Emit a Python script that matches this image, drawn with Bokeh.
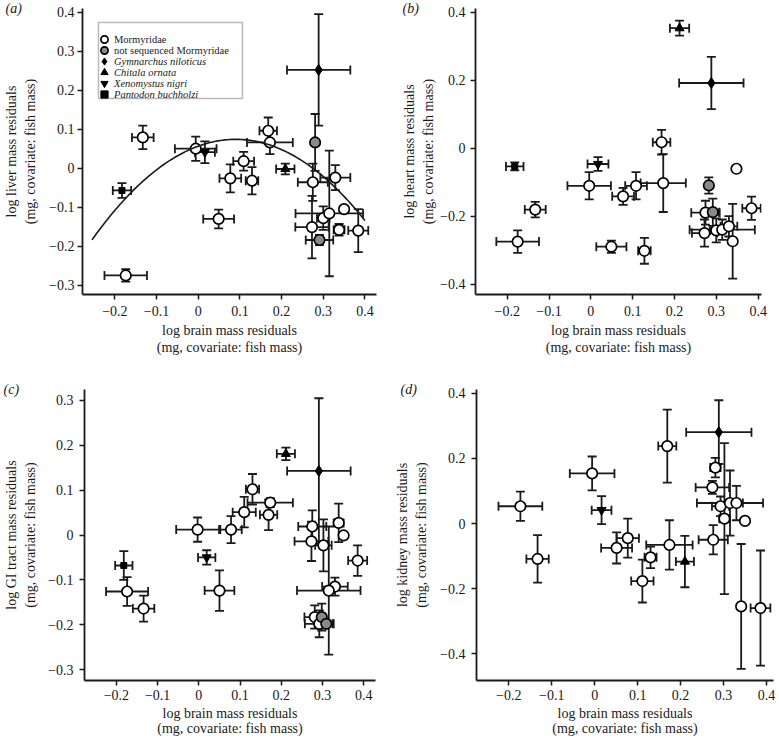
import numpy as np
from bokeh.plotting import figure
from bokeh.models import (ColumnDataSource, Whisker, TeeHead, FixedTicker, CustomJSTickFormatter,
                          Legend, LegendItem, BoxAnnotation, Range1d)
from bokeh.layouts import column, row
from bokeh.embed import file_html
from bokeh.resources import INLINE

FONT = "Liberation Serif"

# ---------------- data ----------------
# groups: M = Mormyridae, N = not sequenced Mormyridae, G = Gymnarchus niloticus,
#         C = Chitala ornata, X = Xenomystus nigri, P = Pantodon buchholzi
x_ticks = [-0.2, -0.1, 0.0, 0.1, 0.2, 0.3, 0.4]

# (a) liver
liver_group = ["M", "M", "P", "M", "X", "M", "M", "M", "M", "M", "M", "C", "G", "N", "N",
               "M", "M", "M", "M", "M", "M", "M", "M"]
liver_x = [-0.174, -0.133, -0.183, -0.006, 0.016, 0.049, 0.077, 0.109, 0.129, 0.168, 0.172, 0.209,
           0.289, 0.2805, 0.291, 0.275, 0.273, 0.300, 0.3145, 0.329, 0.338, 0.350, 0.384]
liver_xerr = [0.051, 0.026, 0.022, 0.050, 0.024, 0.037, 0.026, 0.025, 0.015, 0.021, 0.055, 0.022,
              0.076, 0.0, 0.033, 0.036, 0.040, 0.015, 0.081, 0.036, 0.013, 0.0, 0.024]
liver_y = [-0.275, 0.079, -0.057, 0.050, 0.041, -0.130, -0.026, 0.018, -0.032, 0.096, 0.066, -0.002,
           0.252, 0.066, -0.184, -0.036, -0.151, -0.128, -0.116, -0.024, -0.158, -0.105, -0.160]
liver_yerr = [0.016, 0.030, 0.019, 0.031, 0.028, 0.024, 0.036, 0.024, 0.035, 0.034, 0.030, 0.014,
              0.143, 0.073, 0.013, 0.048, 0.080, 0.030, 0.161, 0.032, 0.015, 0.0, 0.055]
liver_yticks = [-0.3, -0.2, -0.1, 0.0, 0.1, 0.2, 0.3, 0.4]
# fitted quadratic (vertex form): y = a * (x - h)^2 + k, over the drawn x span
liver_fit = dict(a=-2.165, h=0.09, k=0.074, x_start=-0.255, x_end=0.40)

# (b) heart
heart_group = ["M", "M", "P", "M", "X", "M", "M", "M", "M", "M", "M", "C", "G", "N", "N",
               "M", "M", "M", "M", "M", "M", "M", "M"]
heart_x = [-0.175, -0.133, -0.182, -0.004, 0.017, 0.049, 0.077, 0.108, 0.128, 0.169, 0.173, 0.212,
           0.288, 0.282, 0.2915, 0.274, 0.2717, 0.2997, 0.314, 0.330, 0.339, 0.348, 0.384]
heart_xerr = [0.051, 0.025, 0.021, 0.052, 0.025, 0.036, 0.026, 0.026, 0.015, 0.021, 0.054, 0.023,
              0.077, 0.0, 0.015, 0.034, 0.030, 0.015, 0.078, 0.020, 0.0, 0.0, 0.022]
heart_y = [-0.274, -0.180, -0.053, -0.110, -0.046, -0.289, -0.141, -0.110, -0.301, 0.018, -0.102, 0.353,
           0.192, -0.109, -0.1875, -0.189, -0.249, -0.241, -0.239, -0.229, -0.273, -0.060, -0.176]
heart_yerr = [0.033, 0.023, 0.012, 0.040, 0.020, 0.018, 0.025, 0.040, 0.038, 0.036, 0.085, 0.022,
              0.077, 0.024, 0.040, 0.035, 0.040, 0.035, 0.030, 0.030, 0.110, 0.0, 0.034]
heart_yticks = [-0.4, -0.2, 0.0, 0.2, 0.4]

# (c) GI tract
gi_group = ["M", "M", "P", "M", "X", "M", "M", "M", "M", "M", "M", "C", "G", "N", "N",
            "M", "M", "M", "M", "M", "M", "M", "M", "M", "M"]
gi_x = [-0.174, -0.134, -0.182, -0.003, 0.019, 0.050, 0.078, 0.110, 0.130, 0.169, 0.173, 0.211,
        0.291, 0.298, 0.309, 0.275, 0.339, 0.351, 0.273, 0.302, 0.385, 0.330, 0.315, 0.281, 0.292]
gi_xerr = [0.051, 0.026, 0.021, 0.052, 0.021, 0.036, 0.026, 0.028, 0.016, 0.021, 0.055, 0.022,
           0.077, 0.0, 0.015, 0.034, 0.012, 0.0, 0.041, 0.020, 0.023, 0.031, 0.077, 0.025, 0.035]
gi_y = [-0.126, -0.164, -0.068, 0.012, -0.050, -0.124, 0.012, 0.051, 0.102, 0.045, 0.072, 0.181,
        0.143, -0.183, -0.198, 0.019, 0.027, -0.001, -0.014, -0.023, -0.057, -0.115, -0.124, -0.183, -0.198]
gi_yerr = [0.032, 0.029, 0.032, 0.027, 0.016, 0.045, 0.030, 0.034, 0.034, 0.034, 0.010, 0.014,
           0.162, 0.030, 0.0, 0.036, 0.043, 0.0, 0.044, 0.058, 0.034, 0.020, 0.143, 0.026, 0.030]
gi_yticks = [-0.3, -0.2, -0.1, 0.0, 0.1, 0.2, 0.3]

# (d) kidney
kidney_group = ["M", "M", "M", "X", "M", "M", "M", "M", "M", "M", "C", "G",
                "M", "M", "M", "M", "M", "M", "M", "M", "M", "M"]
kidney_x = [-0.173, -0.133, -0.006, 0.016, 0.051, 0.077, 0.111, 0.130, 0.169, 0.174, 0.210, 0.289,
            0.281, 0.274, 0.293, 0.315, 0.330, 0.302, 0.350, 0.276, 0.341, 0.386]
kidney_xerr = [0.051, 0.026, 0.052, 0.023, 0.036, 0.026, 0.026, 0.014, 0.021, 0.054, 0.021, 0.076,
               0.012, 0.039, 0.020, 0.077, 0.015, 0.012, 0.0, 0.034, 0.0, 0.023]
kidney_y = [0.053, -0.109, 0.154, 0.041, -0.075, -0.045, -0.177, -0.104, 0.238, -0.066, -0.117, 0.281,
            0.172, 0.111, 0.053, 0.063, 0.063, 0.015, 0.008, -0.050, -0.255, -0.260]
kidney_yerr = [0.045, 0.073, 0.052, 0.043, 0.048, 0.060, 0.066, 0.033, 0.112, 0.076, 0.079, 0.098,
               0.030, 0.020, 0.030, 0.100, 0.053, 0.232, 0.0, 0.045, 0.192, 0.177]
kidney_yticks = [-0.4, -0.2, 0.0, 0.2, 0.4]

legend_labels = {"M": "Mormyridae", "N": "not sequenced Mormyridae", "G": "Gymnarchus niloticus",
                 "C": "Chitala ornata", "X": "Xenomystus nigri", "P": "Pantodon buchholzi"}

# ---------------- styling ----------------
INK = "#1a1a1a"
STYLES = {
    "M": dict(marker="circle", size=10.5, fill_color="white", line_color="black", line_width=1.7),
    "N": dict(marker="circle", size=10.5, fill_color="#8a8a8a", line_color="black", line_width=1.7),
    "G": dict(marker="diamond", size=11, fill_color="black", line_color="black", line_width=1),
    "C": dict(marker="triangle", size=9, fill_color="black", line_color="black", line_width=1),
    "X": dict(marker="inverted_triangle", size=9, fill_color="black", line_color="black", line_width=1),
    "P": dict(marker="square", size=6, fill_color="black", line_color="black", line_width=1),
}
ORDER = ["M", "N", "G", "C", "X", "P"]

tick_fmt_code = """
if (Math.abs(tick) < 1e-9) { return "0"; }
const s = Math.abs(tick).toFixed(1);
return (tick < 0 ? "\u2212" : "") + s;
"""

XLABEL = "log brain mass residuals\n(mg, covariate: fish mass)"


def make_panel(xs, xerr, ys, yerr, grp, yticks, ylabel, size, borders, xr, yr, tag, tag_offset,
               x_stand, y_stand, x_lh):
    xs = np.array(xs, dtype=float); xerr = np.array(xerr, dtype=float)
    ys = np.array(ys, dtype=float); yerr = np.array(yerr, dtype=float)
    grp = np.array(grp)
    p = figure(width=size[0], height=size[1], output_backend="svg", toolbar_location=None,
               x_range=Range1d(*xr), y_range=Range1d(*yr), title=tag,
               min_border_left=borders[0], min_border_right=borders[1],
               min_border_top=borders[2], min_border_bottom=borders[3])
    p.outline_line_color = None
    p.grid.visible = False

    # panel tag drawn as the figure title, pulled down beside the top of the y axis
    p.title.align = "left"
    p.title.offset = tag_offset
    p.title.standoff = -15
    p.title.vertical_align = "bottom"
    p.title.text_font = FONT
    p.title.text_font_size = "14px"
    p.title.text_font_style = "italic"
    p.title.text_color = INK

    mv = yerr > 0
    vsrc = ColumnDataSource(dict(base=xs[mv], lower=(ys - yerr)[mv], upper=(ys + yerr)[mv]))
    mh = xerr > 0
    hsrc = ColumnDataSource(dict(base=ys[mh], lower=(xs - xerr)[mh], upper=(xs + xerr)[mh]))
    for src, dim in ((vsrc, "height"), (hsrc, "width")):
        w = Whisker(source=src, base="base", lower="lower", upper="upper", dimension=dim,
                    line_color=INK, line_width=1.8, level="underlay",
                    upper_head=TeeHead(size=9, line_width=1.8, line_color=INK),
                    lower_head=TeeHead(size=9, line_width=1.8, line_color=INK))
        p.add_layout(w)

    rends = {}
    for g in ORDER:
        m = grp == g
        if m.any():
            rends[g] = p.scatter(xs[m], ys[m], **STYLES[g])

    for ax, ticks in ((p.xaxis[0], x_ticks), (p.yaxis[0], yticks)):
        ax.ticker = FixedTicker(ticks=ticks)
        ax.formatter = CustomJSTickFormatter(code=tick_fmt_code)
        ax.axis_line_width = 1.8
        ax.axis_line_color = INK
        ax.major_tick_line_width = 1.5
        ax.major_tick_line_color = INK
        ax.major_tick_out = 5
        ax.major_tick_in = 0
        ax.minor_tick_out = 0
        ax.minor_tick_in = 0
        ax.minor_tick_line_color = None
        ax.major_label_text_font = FONT
        ax.major_label_text_font_size = "14px"
        ax.major_label_text_color = INK
        ax.axis_label_text_font = FONT
        ax.axis_label_text_font_size = "14px"
        ax.axis_label_text_font_style = "normal"
        ax.axis_label_text_color = INK
    p.xaxis.axis_label_text_line_height = x_lh
    p.yaxis.axis_label_text_line_height = 1.3
    p.xaxis.major_label_standoff = x_stand[0]
    p.xaxis.axis_label_standoff = x_stand[1]
    p.yaxis.major_label_standoff = y_stand[0]
    p.yaxis.axis_label_standoff = y_stand[1]
    p.xaxis.axis_label = XLABEL
    p.yaxis.axis_label = ylabel
    return p, rends


# (a)
pa, ra = make_panel(liver_x, liver_xerr, liver_y, liver_yerr, liver_group, liver_yticks,
                    "log liver mass residuals\n(mg, covariate: fish mass)",
                    (388, 369), (79, 12, 8, 74), (-0.2777, 0.4278), (-0.3238, 0.4095),
                    "(a)", -77, (6, 4), (3, 8), 1.15)
fx = np.linspace(liver_fit["x_start"], liver_fit["x_end"], 120)
fy = liver_fit["a"] * (fx - liver_fit["h"]) ** 2 + liver_fit["k"]
pa.line(fx, fy, line_color=INK, line_width=1.6)

# legend frame (screen px from the frame's bottom-left)
box = BoxAnnotation(left=16, right=160, top=272, bottom=196,
                    left_units="screen", right_units="screen", top_units="screen", bottom_units="screen",
                    fill_color="white", fill_alpha=1.0, line_color=INK, line_width=1.5)
pa.add_layout(box)
leg_common = dict(border_line_color=None, background_fill_alpha=0, padding=0, margin=0,
                  spacing=0, glyph_width=20, glyph_height=18, label_standoff=-3, label_height=11,
                  label_text_font=FONT, label_text_font_size="10.5px", label_text_color=INK)
leg_order = ["M", "N", "G", "C", "X", "P"]
leg_y = [246, 235, 224, 213, 202, 191]
for g, ly in zip(leg_order, leg_y):
    style = "normal" if g in ("M", "N") else "italic"
    pa.add_layout(Legend(items=[LegendItem(label=legend_labels[g], renderers=[ra[g]])],
                         location=(12, ly), label_text_font_style=style, **leg_common))

# (b)
pb, _ = make_panel(heart_x, heart_xerr, heart_y, heart_yerr, heart_group, heart_yticks,
                   "log heart mass residuals\n(mg, covariate: fish mass)",
                   (387, 369), (87, 14, 8, 75), (-0.2758, 0.4079), (-0.4294, 0.4109),
                   "(b)", -73, (6, 4), (5, 1), 1.15)
# (c)
pc, _ = make_panel(gi_x, gi_xerr, gi_y, gi_yerr, gi_group, gi_yticks,
                   "log GI tract mass residuals\n(mg, covariate: fish mass)",
                   (388, 371), (83, 13, 20, 60), (-0.2773, 0.4283), (-0.3245, 0.3245),
                   "(c)", -81, (4, 3), (6, 7), 1.0)
# (d)
pd_, _ = make_panel(kidney_x, kidney_xerr, kidney_y, kidney_yerr, kidney_group, kidney_yticks,
                    "log kidney mass residuals\n(mg, covariate: fish mass)",
                    (387, 371), (88, 2, 16, 60), (-0.2752, 0.4163), (-0.4828, 0.4121),
                    "(d)", -76, (4, 3), (6, 8), 1.0)

layout = column(row(pa, pb), row(pc, pd_))
open("out.html", "w").write(file_html(layout, INLINE))
